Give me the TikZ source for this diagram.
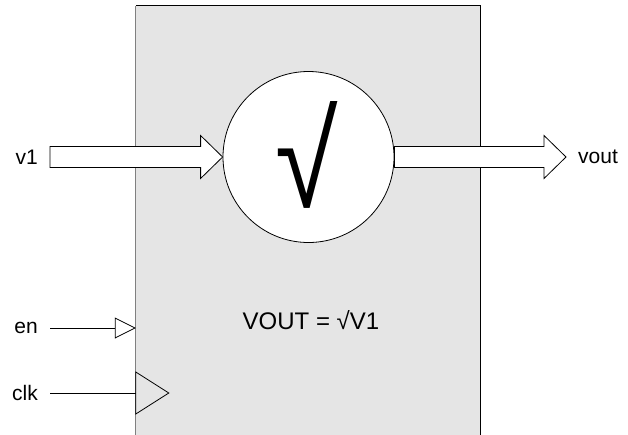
\documentclass[tikz,border=0pt]{standalone}
\usepackage{fontspec}
\setmainfont{Liberation Sans}
\usetikzlibrary{arrows.meta,calc}
\tikzset{
  lbl/.style={inner xsep=12pt, inner ysep=0pt, font=\fontsize{21}{24}\selectfont},
  fatarrow/.style={draw=black, line width=0.8pt, fill=white,
    to path={let \p1=(\tikztostart), \p2=(\tikztotarget) in
      ({\x1},{\y1+10.5pt}) -- ({\x2-22pt},{\y1+10.5pt}) -- ({\x2-22pt},{\y1+21.5pt})
      -- (\x2,\y1) -- ({\x2-22pt},{\y1-21.5pt}) -- ({\x2-22pt},{\y1-10.5pt})
      -- ({\x1},{\y1-10.5pt}) -- cycle}},
  pin/.style={line width=0.8pt, -{Triangle[open, length=21pt, width=21pt, fill=white]}}
}
\begin{document}
\begin{tikzpicture}[x=1pt, y=-1pt]
  \useasboundingbox (0,0) rectangle (628,434);
  % block
  \node[fill=black!10, minimum width=344pt, minimum height=430pt, inner sep=0pt] at (308,221) (blk) {};
  \draw[line width=1.3pt, gray] (blk.south west) -- (blk.north west);
  \draw[line width=1pt] (blk.north west) -- (blk.north east) -- (blk.south east);
  % ports
  \node[lbl, anchor=east] at (50,157) (v1) {v1};
  \node[lbl, anchor=west] at (566,157) (vout) {vout};
  \node[lbl, anchor=east] at (50,328) (en) {en};
  \node[lbl, anchor=east] at (50,393) (clk) {clk};
  \node[draw, circle, fill=white, line width=0.8pt, minimum size=171pt, inner sep=0pt] at (308.5,157) (op) {};
  \node[font=\fontsize{134}{140}\selectfont, xscale=0.85] at (307,155) (sym) {√};
  \draw[fatarrow] (v1.east) to (op.west);
  \draw[fatarrow] (op.east) to (vout.west);
  \draw[pin] (en.east) -- (en.east -| blk.west);
  \draw[line width=0.8pt] (clk.east) -- (clk.east -| blk.west);
  \draw[line width=0.8pt] ($(clk.east -| blk.west)+(0,-21)$) -- ++(33,21) -- ++(-33,21) -- cycle;
  \node[font=\fontsize{24}{28}\selectfont] at (311,320) (eq) {VOUT = √V1};
\end{tikzpicture}
\end{document}
